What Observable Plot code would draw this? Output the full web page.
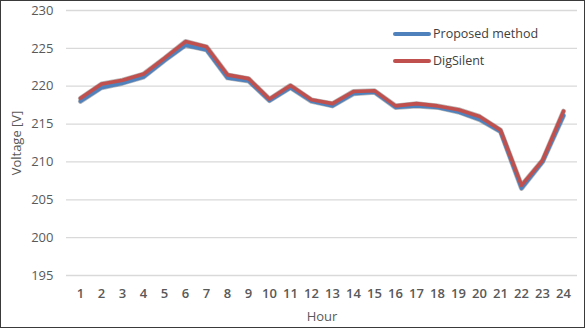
<!DOCTYPE html>
<html>
<head>
<meta charset="utf-8">
<script src="https://cdn.jsdelivr.net/npm/d3@7"></script>
<script src="https://cdn.jsdelivr.net/npm/@observablehq/plot@0.6"></script>
<style>
  html, body { margin: 0; padding: 0; background: #fff; }
  #chart {
    position: relative;
    width: 585px; height: 328px;
    box-sizing: border-box;
    border: 1px solid #3a3a3a;
    font-family: "Open Sans", sans-serif;
    overflow: hidden;
  }
  #legend {
    position: absolute; left: 392px; top: 19px;
    font-size: 12.5px; color: #404040;
  }
  #legend .row { display: flex; align-items: center; height: 27px; }
  #legend .sw { width: 38px; height: 4px; border-radius: 2px; margin-right: 2px; }
</style>
</head>
<body>
<div id="chart"><div id="legend"></div></div>
<script>
// Hourly voltage profile: proposed load-flow method vs. DigSilent reference
const hours = d3.range(1, 25);
const proposed = [218.0, 219.8, 220.4, 221.2, 223.4, 225.4, 224.8, 221.1, 220.7, 218.1,
                  219.8, 218.0, 217.4, 219.0, 219.2, 217.2, 217.4, 217.2, 216.6, 215.6,
                  214.0, 206.5, 210.0, 216.1];
const digsilent = [218.4, 220.3, 220.8, 221.6, 223.7, 225.9, 225.2, 221.5, 221.0, 218.3,
                   220.1, 218.2, 217.7, 219.3, 219.4, 217.4, 217.7, 217.4, 216.9, 216.0,
                   214.2, 206.9, 210.2, 216.7];
const yTicks = [195, 200, 205, 210, 215, 220, 225, 230];
const seriesNames = ["Proposed method", "DigSilent"];
const seriesColors = ["#4f81bd", "#c0504d"];

const rows = [
  ...hours.map((h, i) => ({hour: h, v: proposed[i], s: seriesNames[0]})),
  ...hours.map((h, i) => ({hour: h, v: digsilent[i], s: seriesNames[1]}))
];

const chart = Plot.plot({
  width: 583,
  height: 326,
  marginLeft: 65,
  marginRight: 7,
  marginTop: 9,
  marginBottom: 52,
  style: {fontFamily: "Open Sans, sans-serif", fontSize: "13px", color: "#595959", background: "#fff"},
  x: {type: "point", domain: hours, padding: 0.5},
  y: {domain: [195, 230]},
  color: {domain: seriesNames, range: seriesColors},
  marks: [
    Plot.gridY(yTicks, {stroke: "#d9d9d9", strokeOpacity: 1, strokeWidth: 1.3}),
    // soft dark shadow under each series line
    Plot.line(rows, {x: "hour", y: "v", z: "s", stroke: "#3b3b3b", strokeWidth: 5, strokeOpacity: 0.35}),
    Plot.line(rows, {x: "hour", y: "v", z: "s", stroke: "s", strokeWidth: 3.6}),
    Plot.axisX({tickSize: 0, tickPadding: 13, fontSize: 13, fontWeight: 600, fill: "#595959", label: null}),
    Plot.axisY(yTicks, {tickSize: 0, tickPadding: 13, fontSize: 13, fill: "#595959", label: null}),
    Plot.axisX({tickSize: 0, ticks: [], label: "Hour", labelAnchor: "center", labelArrow: "none", labelOffset: 45, fontSize: 13, fill: "#595959"}),
    Plot.axisY({tickSize: 0, ticks: [], label: "Voltage [V]", labelAnchor: "center", labelArrow: "none", labelOffset: 55, fontSize: 13, fill: "#595959"})
  ]
});
document.getElementById("chart").prepend(chart);

// legend
const legend = d3.select("#legend");
seriesNames.forEach((name, i) => {
  const row = legend.append("div").attr("class", "row");
  row.append("div").attr("class", "sw").style("background", seriesColors[i]);
  row.append("span").text(name);
});
</script>
</body>
</html>
